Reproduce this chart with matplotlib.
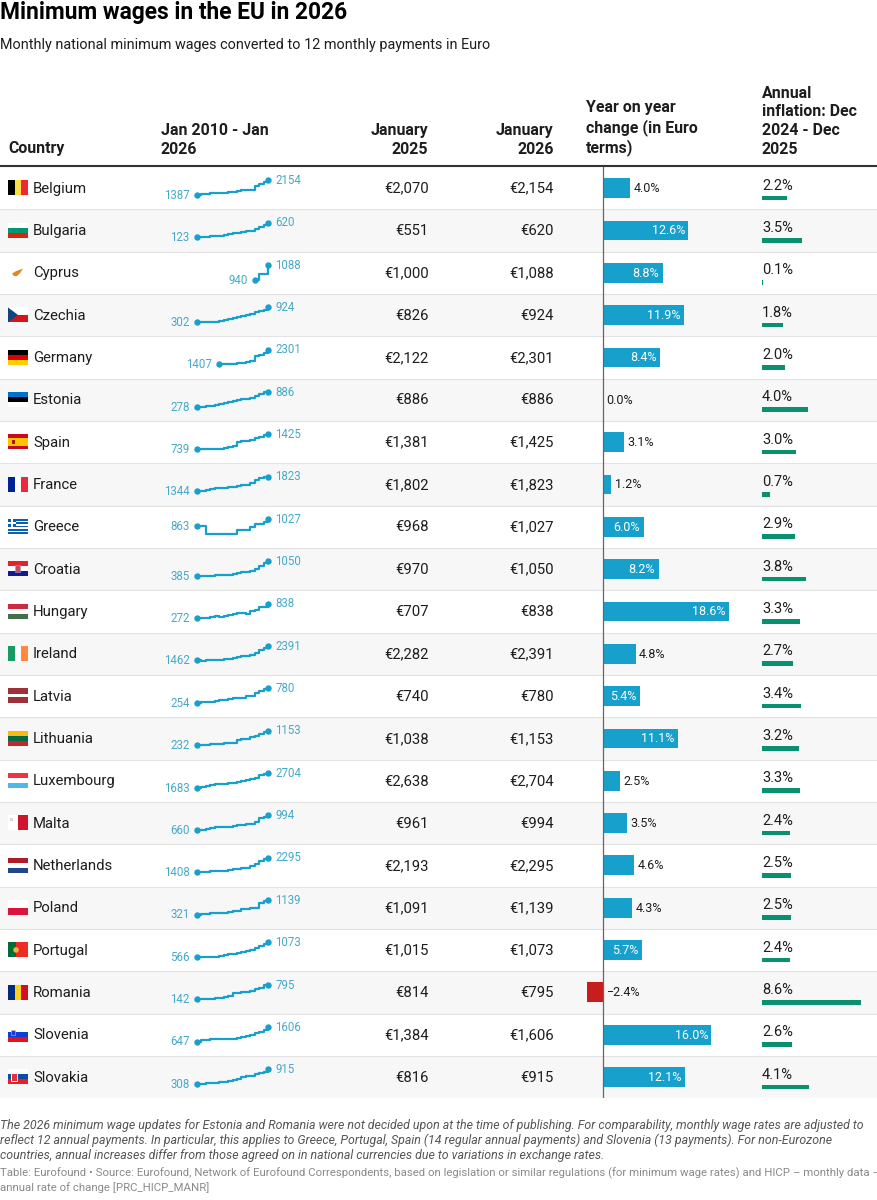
import matplotlib
matplotlib.use("Agg")
import matplotlib.pyplot as plt
from matplotlib.patches import Rectangle, Polygon, Circle

plt.rcParams['font.family'] = ['Roboto', 'DejaVu Sans']

W, H = 878, 1200

countries = ["Belgium", "Bulgaria", "Cyprus", "Czechia", "Germany", "Estonia", "Spain", "France",
             "Greece", "Croatia", "Hungary", "Ireland", "Latvia", "Lithuania", "Luxembourg", "Malta",
             "Netherlands", "Poland", "Portugal", "Romania", "Slovenia", "Slovakia"]

wage_2025 = [2070, 551, 1000, 826, 2122, 886, 1381, 1802, 968, 970, 707, 2282, 740, 1038, 2638, 961,
             2193, 1091, 1015, 814, 1384, 816]
wage_2026 = [2154, 620, 1088, 924, 2301, 886, 1425, 1823, 1027, 1050, 838, 2391, 780, 1153, 2704, 994,
             2295, 1139, 1073, 795, 1606, 915]
yoy_change = [4.0, 12.6, 8.8, 11.9, 8.4, 0.0, 3.1, 1.2, 6.0, 8.2, 18.6, 4.8, 5.4, 11.1, 2.5, 3.5,
              4.6, 4.3, 5.7, -2.4, 16.0, 12.1]
inflation = [2.2, 3.5, 0.1, 1.8, 2.0, 4.0, 3.0, 0.7, 2.9, 3.8, 3.3, 2.7, 3.4, 3.2, 3.3, 2.4,
             2.5, 2.5, 2.4, 8.6, 2.6, 4.1]

history = {
    "Belgium": [1387, 1415, 1444, 1472, 1502, 1502, 1502, 1532, 1562, 1594, 1626, 1626, 1658, 1842, 1955, 2070, 2154],
    "Bulgaria": [123, 123, 138, 159, 174, 184, 215, 235, 261, 286, 312, 332, 332, 399, 477, 551, 620],
    "Cyprus": [940, 1000, 1000, 1088],
    "Czechia": [302, 319, 310, 318, 310, 332, 366, 407, 478, 519, 575, 579, 652, 717, 764, 826, 924],
    "Germany": [1407, 1407, 1441, 1441, 1464, 1500, 1533, 1590, 1906, 1987, 2122, 2301],
    "Estonia": [278, 278, 290, 320, 355, 390, 430, 470, 500, 540, 584, 584, 654, 725, 820, 886, 886],
    "Spain": [739, 748, 748, 753, 753, 757, 764, 826, 859, 1050, 1108, 1108, 1167, 1260, 1323, 1381, 1425],
    "France": [1344, 1365, 1398, 1430, 1445, 1458, 1467, 1480, 1498, 1521, 1539, 1555, 1603, 1709, 1767, 1802, 1823],
    "Greece": [863, 863, 684, 684, 684, 684, 684, 684, 684, 758, 758, 758, 831, 910, 910, 968, 1027],
    "Croatia": [385, 381, 373, 372, 396, 396, 408, 433, 462, 506, 546, 567, 624, 700, 840, 970, 1050],
    "Hungary": [272, 280, 296, 335, 342, 333, 351, 412, 445, 464, 487, 442, 542, 579, 697, 707, 838],
    "Ireland": [1462, 1430, 1462, 1462, 1462, 1462, 1546, 1563, 1614, 1656, 1707, 1724, 1775, 1910, 2146, 2282, 2391],
    "Latvia": [254, 282, 286, 287, 320, 360, 370, 380, 430, 430, 430, 500, 500, 620, 700, 740, 780],
    "Lithuania": [232, 232, 232, 290, 290, 300, 350, 380, 400, 555, 607, 642, 730, 840, 924, 1038, 1153],
    "Luxembourg": [1683, 1758, 1801, 1874, 1921, 1923, 1923, 1999, 1999, 2071, 2142, 2202, 2257, 2387, 2571, 2638, 2704],
    "Malta": [660, 665, 680, 697, 718, 720, 728, 736, 748, 762, 777, 785, 792, 835, 925, 961, 994],
    "Netherlands": [1408, 1416, 1447, 1469, 1486, 1502, 1508, 1552, 1578, 1616, 1654, 1685, 1759, 1903, 2089, 2193, 2295],
    "Poland": [321, 349, 336, 393, 404, 410, 431, 473, 503, 523, 611, 614, 663, 700, 950, 1091, 1139],
    "Portugal": [566, 566, 566, 566, 566, 589, 618, 650, 677, 700, 741, 776, 823, 887, 957, 1015, 1073],
    "Romania": [142, 157, 162, 158, 190, 218, 233, 275, 408, 446, 466, 458, 515, 606, 663, 814, 795],
    "Slovenia": [647, 748, 763, 784, 789, 791, 791, 805, 843, 887, 941, 1024, 1074, 1203, 1254, 1384, 1606],
    "Slovakia": [308, 317, 327, 338, 352, 380, 405, 435, 480, 520, 580, 623, 646, 700, 750, 816, 915],
}

headers = ["Country", "Jan 2010 - Jan\n2026", "January\n2025", "January\n2026",
           "Year on year\nchange (in Euro\nterms)", "Annual\ninflation: Dec\n2024 - Dec\n2025"]

title = "Minimum wages in the EU in 2026"
subtitle = "Monthly national minimum wages converted to 12 monthly payments in Euro"
notes = ["The 2026 minimum wage updates for Estonia and Romania were not decided upon at the time of publishing. For comparability, monthly wage rates are adjusted to",
         "reflect 12 annual payments. In particular, this applies to Greece, Portugal, Spain (14 regular annual payments) and Slovenia (13 payments). For non-Eurozone",
         "countries, annual increases differ from those agreed on in national currencies due to variations in exchange rates."]
source = ["Table: Eurofound • Source: Eurofound, Network of Eurofound Correspondents, based on legislation or similar regulations (for minimum wage rates) and HICP – monthly data –",
          "annual rate of change [PRC_HICP_MANR]"]

# orientation, colours, stripe weights
flag_stripes = {
    "Belgium": ("v", ["#000000", "#fae042", "#ed2939"], [1, 1, 1]),
    "Bulgaria": ("h", ["#ffffff", "#00966e", "#d62612"], [1, 1, 1]),
    "Cyprus": ("h", ["#ffffff"], [1]),
    "Czechia": ("h", ["#ffffff", "#d7141a"], [1, 1]),
    "Germany": ("h", ["#000000", "#dd0000", "#ffce00"], [1, 1, 1]),
    "Estonia": ("h", ["#0072ce", "#000000", "#ffffff"], [1, 1, 1]),
    "Spain": ("h", ["#c60b1e", "#ffc400", "#c60b1e"], [1, 2, 1]),
    "France": ("v", ["#002395", "#ffffff", "#ed2939"], [1, 1, 1]),
    "Greece": ("h", ["#0d5eaf", "#ffffff"] * 4 + ["#0d5eaf"], [1] * 9),
    "Croatia": ("h", ["#e4222a", "#ffffff", "#171796"], [1, 1, 1]),
    "Hungary": ("h", ["#cd2a3e", "#ffffff", "#436f4d"], [1, 1, 1]),
    "Ireland": ("v", ["#169b62", "#ffffff", "#ff883e"], [1, 1, 1]),
    "Latvia": ("h", ["#9e3039", "#ffffff", "#9e3039"], [2, 1, 2]),
    "Lithuania": ("h", ["#fdb913", "#006a44", "#c1272d"], [1, 1, 1]),
    "Luxembourg": ("h", ["#ef3340", "#ffffff", "#4fb8ea"], [1, 1, 1]),
    "Malta": ("v", ["#ffffff", "#cf142b"], [1, 1]),
    "Netherlands": ("h", ["#ae1c28", "#ffffff", "#21468b"], [1, 1, 1]),
    "Poland": ("h", ["#ffffff", "#dc143c"], [1, 1]),
    "Portugal": ("v", ["#046a38", "#ee2a24"], [2, 3]),
    "Romania": ("v", ["#002b7f", "#fcd116", "#ce1126"], [1, 1, 1]),
    "Slovenia": ("h", ["#ffffff", "#0b3fd6", "#e8101a"], [1, 1, 1]),
    "Slovakia": ("h", ["#ffffff", "#0b4ea2", "#ee1c25"], [1, 1, 1]),
}

ROW0 = 167
ROW_H = 42.33
BLUE = "#18a0cd"
RED = "#c71e1d"
GREEN = "#09906f"
INK = "#1d1d1d"
SPARK_TEXT = "#46a9c9"
n_rows = len(countries)
table_bottom = ROW0 + n_rows * ROW_H

fig = plt.figure(figsize=(W / 100, H / 100), dpi=100)


def px_axes(left, top, right, bottom, zorder):
    a = fig.add_axes([left / W, 1 - bottom / H, (right - left) / W, (bottom - top) / H], zorder=zorder)
    a.patch.set_alpha(0)
    a.axis("off")
    return a


def draw_flag(ax, name, cy):
    x0, y0, fw, fh = 8, cy - 7.5, 20, 15
    orient, colors, weights = flag_stripes[name]
    pos = 0
    for color, w in zip(colors, weights):
        share = w / sum(weights)
        if orient == "h":
            ax.add_patch(Rectangle((x0, y0 + pos * fh), fw, share * fh, fc=color, ec="none"))
        else:
            ax.add_patch(Rectangle((x0 + pos * fw, y0), share * fw, fh, fc=color, ec="none"))
        pos += share
    # emblems
    if name == "Czechia":
        ax.add_patch(Polygon([(x0, y0), (x0 + 10, y0 + 7.5), (x0, y0 + 15)], fc="#11457e", ec="none"))
    elif name == "Cyprus":
        ax.add_patch(Polygon([(x0 + 4, y0 + 8.5), (x0 + 8, y0 + 6), (x0 + 15, y0 + 3.5), (x0 + 12, y0 + 8), (x0 + 9, y0 + 11), (x0 + 6, y0 + 11)],
                             fc="#d98a2b", ec="none"))
    elif name == "Spain":
        ax.add_patch(Rectangle((x0 + 4.5, y0 + 5.5), 3, 4, fc="#ad1519", ec="none"))
    elif name == "Greece":
        ax.add_patch(Rectangle((x0, y0), 8.3, 8.3, fc="#0d5eaf", ec="none"))
        ax.add_patch(Rectangle((x0, y0 + 3.3), 8.3, 1.67, fc="#ffffff", ec="none"))
        ax.add_patch(Rectangle((x0 + 3.3, y0), 1.67, 8.3, fc="#ffffff", ec="none"))
    elif name == "Croatia":
        ax.add_patch(Rectangle((x0 + 7.5, y0 + 3.5), 5, 7, fc="#c9485b", ec="#8fa4c8", lw=0.4))
    elif name == "Malta":
        ax.add_patch(Rectangle((x0 + 2.2, y0 + 2.8), 3, 3, fc="#d9d9d9", ec="none"))
    elif name == "Portugal":
        ax.add_patch(Circle((x0 + 8, y0 + 7.5), 2.8, fc="#e8b33c", ec="none"))
    elif name == "Slovenia":
        ax.add_patch(Rectangle((x0 + 3, y0 + 2.5), 4, 5, fc="#0b3fd6", ec="#f2b0b0", lw=0.4))
    elif name == "Slovakia":
        ax.add_patch(Rectangle((x0 + 3, y0 + 3.5), 6.5, 8, fc="#e8303a", ec="#ffffff", lw=0.7))


# layout axes in picture pixels: backgrounds, flags, text columns
ax = fig.add_axes([0, 0, 1, 1], zorder=0)
ax.set_xlim(0, W)
ax.set_ylim(H, 0)
ax.axis("off")

ax.text(0, 12.5, title, fontsize=16.4, fontweight="bold", color="#000000", va="center")
ax.text(0, 45, subtitle, fontsize=10.38, color=INK, va="center")

header_x = [8, 161, 428.5, 553.5, 586, 762]
header_ha = ["left", "left", "right", "right", "left", "left"]
for label, hx, ha in zip(headers, header_x, header_ha):
    ax.text(hx, 156.5, label, fontsize=11.4, fontweight="bold", color=INK, ha=ha, va="bottom",
            multialignment=ha, linespacing=1.3)
ax.plot([0, W], [166, 166], color="#333333", lw=1.5, solid_capstyle="butt")

for i, name in enumerate(countries):
    top = ROW0 + i * ROW_H
    cy = top + ROW_H / 2 - 0.2
    if i % 2 == 1:
        ax.add_patch(Rectangle((0, top), W, ROW_H, fc="#f7f7f7", ec="none", zorder=0))
    if i > 0:
        ax.plot([0, W], [top, top], color="#e3e3e3", lw=0.8, zorder=0.5)
    draw_flag(ax, name, cy)
    ax.text(33, cy + 0.8, name, fontsize=10.7, color=INK, va="center")
    ax.text(428.5, cy + 0.8, f"€{wage_2025[i]:,}", fontsize=10.7, color=INK, ha="right", va="center")
    ax.text(553.5, cy + 0.8, f"€{wage_2026[i]:,}", fontsize=10.7, color=INK, ha="right", va="center")

for i, line in enumerate(notes):
    ax.text(0, 1126 + i * 14.5, line, fontsize=8.96, style="italic", color="#555555", va="center")
for i, line in enumerate(source):
    ax.text(0, 1173 + i * 14.4, line, fontsize=8.2, color="#8a8a8a", va="center")

# sparklines, every row on its own y scale
for i, name in enumerate(countries):
    cy = ROW0 + i * ROW_H + ROW_H / 2 - 0.5
    values = history[name]
    years = list(range(2026 - len(values) + 1, 2027))
    sp = px_axes(196.6, cy - 7.3, 268.4, cy + 7.3, 2)
    sp.set_xlim(2010, 2026)
    sp.plot(years, values, color=BLUE, lw=1.6, drawstyle="steps-post", clip_on=False, solid_joinstyle="round")
    sp.plot([years[0], years[-1]], [values[0], values[-1]], "o", color=BLUE, ms=4.6, mew=0, clip_on=False)
    sp.set_ylim(min(values), max(values))
    sp.annotate(str(values[0]), (years[0], values[0]), xytext=(-5, -0.3), textcoords="offset points",
                fontsize=8.3, color=SPARK_TEXT, ha="right", va="center", annotation_clip=False)
    sp.annotate(str(values[-1]), (years[-1], values[-1]), xytext=(5, -0.1), textcoords="offset points",
                fontsize=8.3, color=SPARK_TEXT, ha="left", va="center", annotation_clip=False)

# year on year bars
PX_PER_PCT = 6.78
left, right, zero_x = 580, 740, 603
bars = px_axes(left, ROW0, right, table_bottom, 2)
bars.set_xlim((left - zero_x) / PX_PER_PCT, (right - zero_x) / PX_PER_PCT)
bars.set_ylim(n_rows - 0.5, -0.5)
rows = list(range(n_rows))
bars.barh(rows, yoy_change, height=0.47, color=[BLUE if v >= 0 else RED for v in yoy_change])
bars.axvline(0, color="#666666", lw=0.9)
for i, v in enumerate(yoy_change):
    text = f"{v:.1f}%".replace("-", "−")
    if v >= 5:
        bars.annotate(text, (v, i), xytext=(-2.5, -0.2), textcoords="offset points", fontsize=9.0,
                      color="#ffffff", ha="right", va="center")
    else:
        bars.annotate(text, (max(v, 0), i), xytext=(2.5, -0.2), textcoords="offset points", fontsize=9.0,
                      color=INK, ha="left", va="center")

# inflation bars
PX_PER_INFL = 11.5
left2, right2 = 762, 875
infl = px_axes(left2, ROW0, right2, table_bottom, 2)
infl.set_xlim(0, (right2 - left2) / PX_PER_INFL)
infl.set_ylim(n_rows - 0.5, -0.5)
infl.barh([r + 0.235 for r in rows], inflation, height=0.11, color=GREEN)
for i, v in enumerate(inflation):
    infl.annotate(f"{v:.1f}%", (0, i), xytext=(0, 1.7), textcoords="offset points", fontsize=10.5,
                  color=INK, ha="left", va="center")

fig.savefig("out.png", dpi=100, facecolor="white")
